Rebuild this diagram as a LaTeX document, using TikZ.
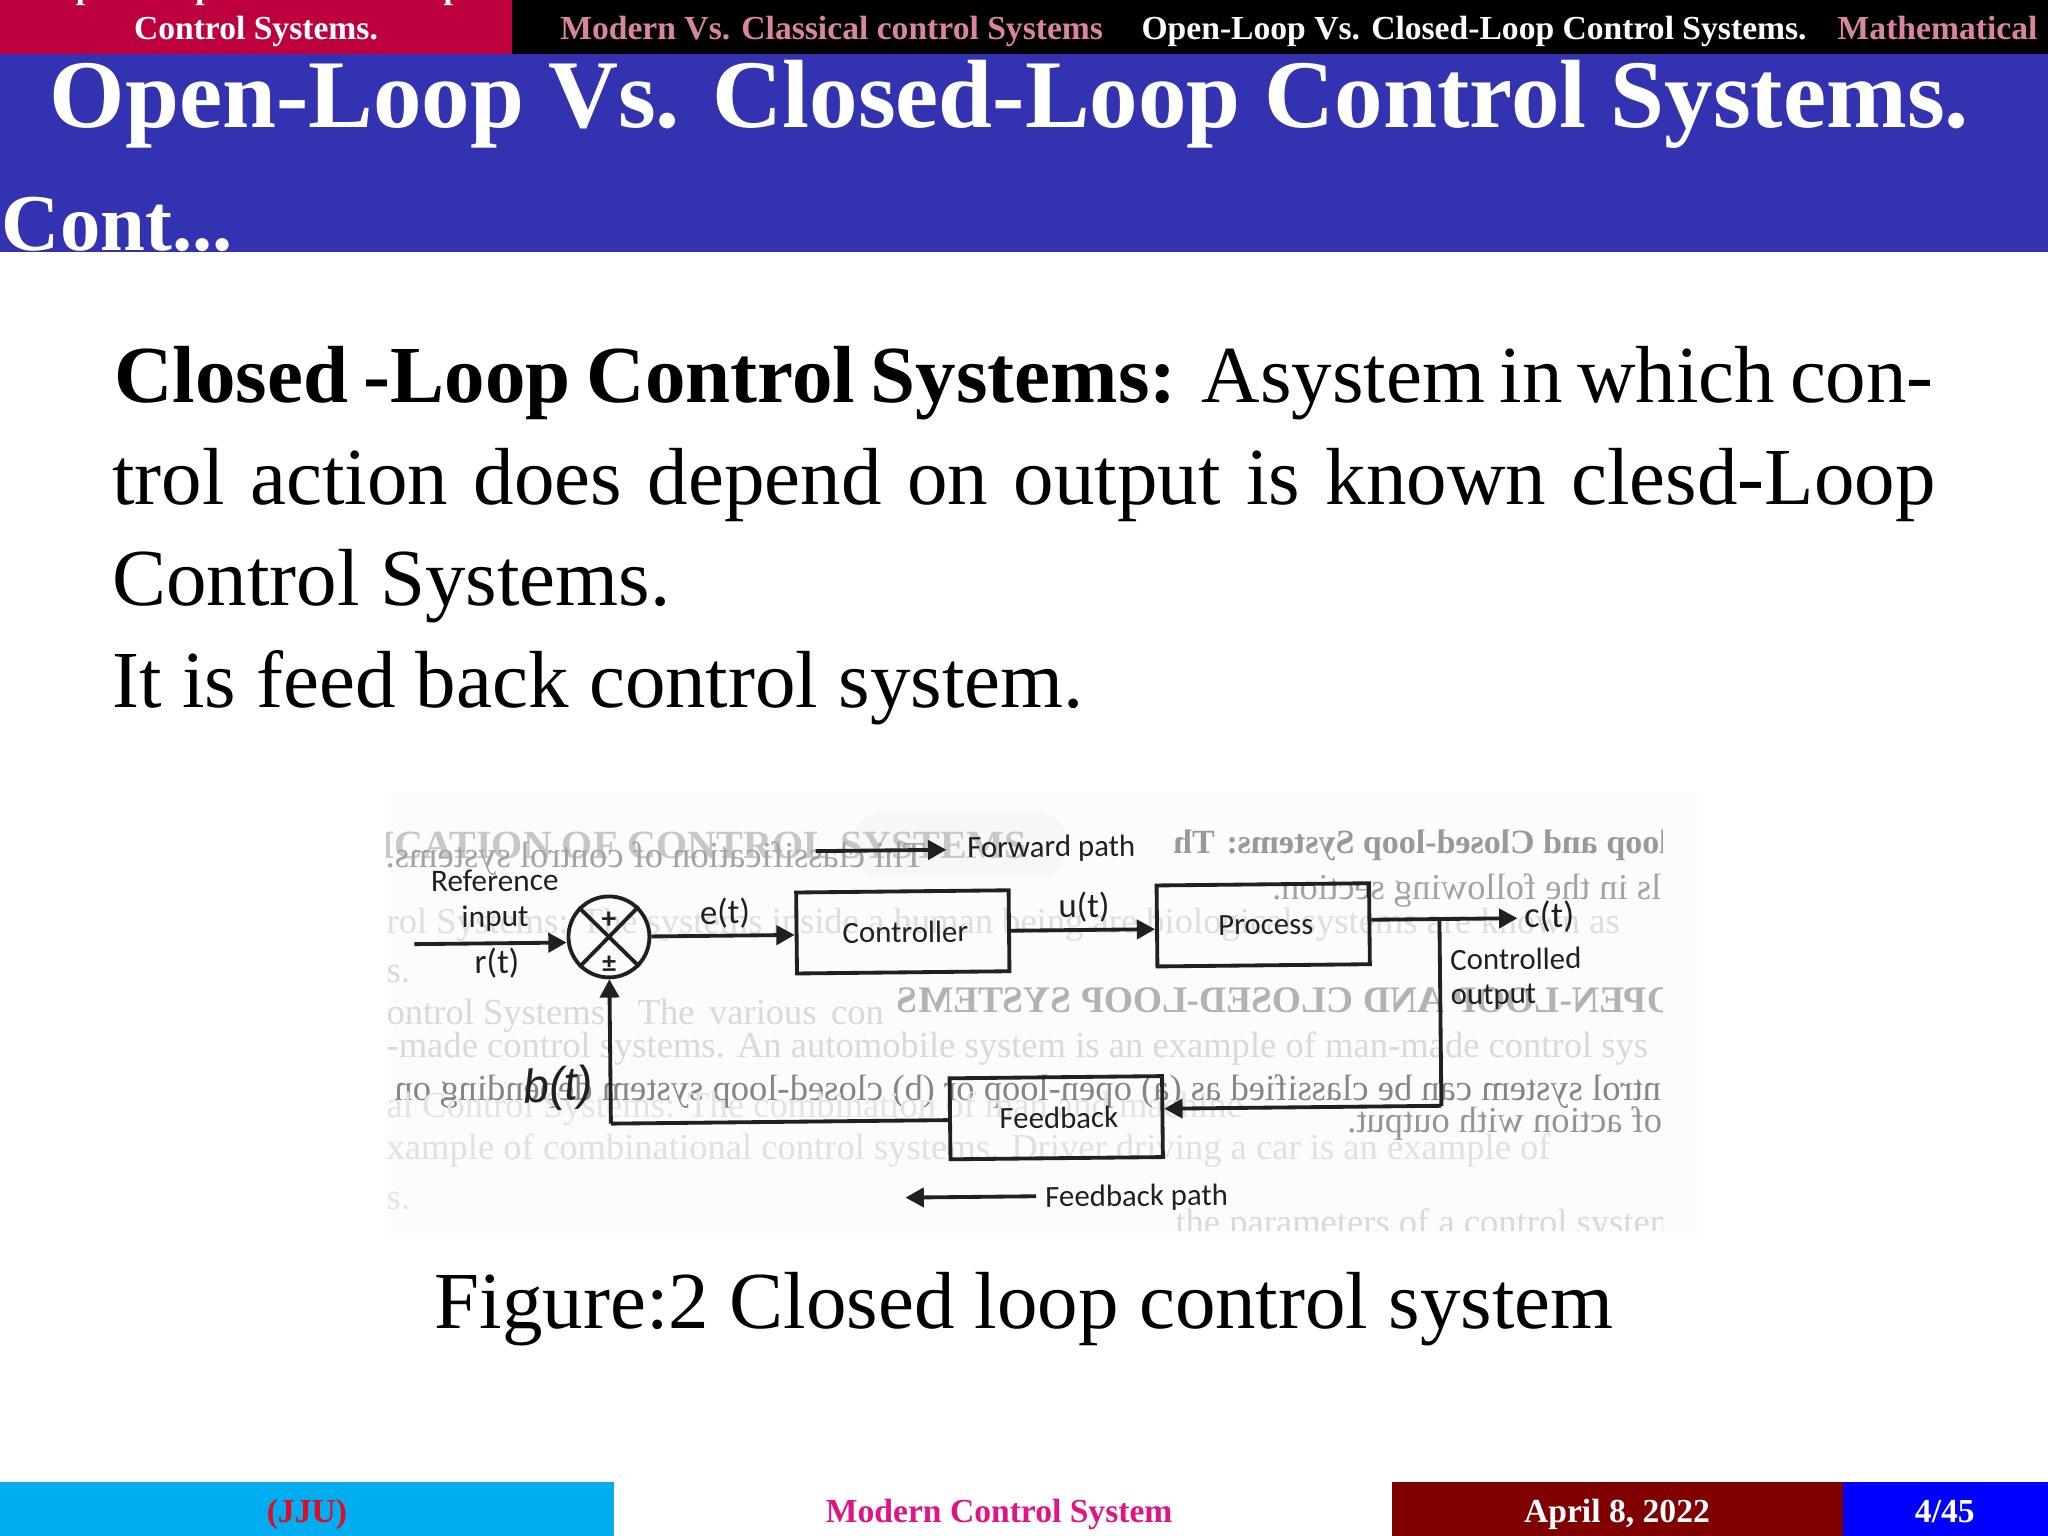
\documentclass[tikz,border=0pt]{standalone}
\usepackage{fontspec}
\setmainfont{Liberation Serif}
\newfontfamily\diagfont{Carlito}
\newfontfamily\handfont{Liberation Sans}
\usetikzlibrary{arrows.meta}
\definecolor{barred}{RGB}{190,0,63}
\definecolor{bannerblue}{RGB}{51,51,178}
\definecolor{navpink}{RGB}{216,133,157}
\definecolor{footcyan}{RGB}{0,174,239}
\definecolor{footdark}{RGB}{128,0,0}
\definecolor{footblue}{RGB}{0,0,255}
\definecolor{footmag}{RGB}{222,20,135}
\definecolor{footred}{RGB}{225,10,40}
\definecolor{ink}{RGB}{32,32,32}
\definecolor{smudge}{RGB}{245,247,248}
\newcommand{\fsz}[1]{\fontsize{#1}{#1}\selectfont}
\tikzset{
  x=0.75pt,y=-0.75pt,
  plain/.style={inner sep=0pt,outer sep=0pt},
  nav/.style={plain,anchor=base west,font=\bfseries\fsz{19.3}},
  foot/.style={plain,anchor=base,font=\bfseries\fsz{19.3}},
  titletext/.style={plain,anchor=base west,text=white,font=\bfseries\fsz{55.7}},
  bodytext/.style={plain,anchor=base west,font=\fsz{46.5}},
  boldtext/.style={plain,anchor=base west,font=\bfseries\fsz{46.5}},
  blockbox/.style={draw=ink,line width=2.2pt,inner sep=0pt,minimum width=122pt,minimum height=46.5pt,fill=none,text=ink,font=\diagfont\fsz{17.7}},
  lab/.style={plain,text=ink,font=\diagfont\fsz{17.7}},
  sig/.style={plain,text=ink,font=\diagfont\fsz{20}},
  conn/.style={draw=ink,line width=2.2pt},
  arr/.style={conn,-{Triangle[length=10.5pt,width=11pt]}},
  faint/.style={plain,text=black!15,anchor=west,font=\fsz{21}},
  faintb/.style={plain,text=black!22,font=\bfseries\fsz{23}},
  mid/.style={plain,text=black!48,xscale=-1,font=\fsz{21}},
}
\begin{document}
\begin{tikzpicture}
\clip (0,0) rectangle (1568,1176);
\useasboundingbox (0,0) rectangle (1568,1176);
% bars
\fill[barred] (0,0) rectangle (392,41);
\fill[black] (392,0) rectangle (1568,41);
\fill[bannerblue] (0,41) rectangle (1568,193);
\fill[footcyan] (0,1135) rectangle (470,1176);
\fill[footdark] (1066,1135) rectangle (1411,1176);
\fill[footblue] (1411,1135) rectangle (1568,1176);
% navigation
\node[nav,anchor=base,text=white] (navA) at (196,-1) {Open-Loop Vs. Closed-Loop};
\node[nav,anchor=base,text=white] (navB) at (196,30) {Control Systems.};
\node[nav,text=navpink] (navC) at (429,30) {Modern Vs. Classical control Systems};
\node[nav,text=white] (navD) at (874,30) {Open-Loop Vs. Closed-Loop Control Systems.};
\node[nav,text=navpink] (navE) at (1407,30) {Mathematical};
% title
\node[titletext] (title) at (38,97.5) {Open-Loop Vs. Closed-Loop Control Systems.};
\node[titletext,font=\bfseries\fsz{46.3}] (cont) at (1.5,192) {Cont...};
% body
\node[boldtext] (b1) at (87.5,308) {\makebox[610pt][s]{Closed -Loop Control Systems:}};
\node[bodytext] (b2) at (920,308) {\makebox[420.5pt][s]{Asystem in which con-}};
\node[bodytext] (b3) at (86,386) {\makebox[1047pt][s]{trol action does depend on output is known clesd-Loop}};
\node[bodytext] (b4) at (86,463.5) {Control Systems.};
\node[bodytext] (b5) at (86,541.5) {It is feed back control system.};
\node[bodytext] (cap) at (333,1017) {Figure:2 Closed loop control system};
% photo background
\fill[black!1] (296,606) rectangle (1302,945);
\fill[smudge,rounded corners=14pt] (655,622) rectangle (815,672);
\begin{scope}
\clip (296,630) rectangle (1273,942);
\node[faintb] (f1) at (523,647) {IFICATION OF CONTROL SYSTEMS};
\node[mid,text=black!36] (f2) at (470,657) {Thi classification of control systems. from};
\node[mid,text=black!40,font=\bfseries\fsz{19.5}] (f3) at (1088,647) {loop and Closed-loop Systems: Th};
\node[mid,text=black!36] (f4) at (1123,682) {ls in the following section.};
\node[faint,text=black!13] (f5) at (296,708) {rol Systems: The systems inside a human being are biological systems are known as};
\node[faint] (f6) at (296,746) {s.};
\node[faint] (f7) at (296,778) {ontrol Systems:\hspace{6pt} The\hspace{3pt} various\hspace{3pt} con};
\node[faintb,text=black!30,xscale=-1,font=\bfseries\fsz{21.5}] (f8) at (985,766) {OPEN-LOOP AND CLOSED-LOOP SYSTEMS};
\node[faint] (f9) at (296,803) {-made control systems. An automobile system is an example of man-made control sys};
\node[mid] (f10) at (787,836) {ntrol system can be classified as (a) open-loop or (b) closed-loop system depending on};
\node[faint,text=black!11] (f11) at (296,849) {al Control Systems: The combination of man and machine};
\node[mid,text=black!42] (f12) at (1152,860) {of action with output.};
\node[faint,text=black!12] (f13) at (296,881) {xample of combinational control systems. Driver driving a car is an example of};
\node[faint,text=black!10] (f14) at (296,920) {s.};
\node[faint] (f15) at (900,938) {the parameters of a control system};
\end{scope}
% diagram
\begin{scope}[rotate around={0.6:(784,790)},transform shape]
\node[blockbox] (ctrl) at (692,712.5) {\raisebox{-2pt}{\hspace*{3pt}Controller}};
\node[blockbox] (proc) at (968,710) {\raisebox{-2pt}{\hspace*{3pt}Process}};
\node[blockbox] (fb) at (808,856) {\hspace*{3pt}Feedback};
\node[draw=ink,line width=2.2pt,circle,minimum size=46.5pt,inner sep=0pt] (sum) at (467,714) {};
\draw[conn] (sum.45) -- (sum.225);
\draw[conn] (sum.135) -- (sum.315);
\node[lab,font=\diagfont\bfseries\fsz{17}] (plus) at (467,701) {+};
\node[lab,font=\diagfont\bfseries\fsz{16}] (pm) at (467,735) {±};
\node[lab,font=\diagfont\fsz{18}] (l1) at (380,670) {Reference};
\node[lab,font=\diagfont\fsz{18}] (l2) at (380,699) {input};
\node[sig] (l3) at (381,733) {r(t)};
\node[sig] (l4) at (556,697) {e(t)};
\node[sig] (l5) at (831,695) {u(t)};
\node[sig,anchor=west,font=\diagfont\fsz{21}] (l6) at (1168,706) {c(t)};
\node[lab,anchor=west] (l7) at (1111,738) {Controlled};
\node[lab,anchor=west] (l8) at (1111,767) {output};
\node[lab,font=\handfont\itshape\fsz{27},rotate=4] (l9) at (427,830) {b(t)};
\node[lab,anchor=west] (l10) at (742,650) {Forward path};
\node[lab,anchor=west] (l11) at (799,918) {Feedback path};
\coordinate (inp) at (318,718);
\coordinate (c1) at (1103,707);
\coordinate (c2) at (1103,850);
\coordinate (c3) at (467,857);
\coordinate (fa) at (626,650);
\coordinate (fc) at (792,916);
\draw[arr] (inp) -- (sum.west |- inp);
\draw[arr] (sum.east) -- (ctrl.west |- sum.east);
\draw[arr] (ctrl.east) -- (proc.west |- ctrl.east);
\draw[arr] (proc.east |- c1) -- ([xshift=-4pt]l6.west |- c1);
\draw[conn] (c1) -- (c2);
\draw[arr] (c2) -- (fb.east |- c2);
\draw[conn] (fb.west |- c3) -- (c3);
\draw[arr] (c3) -- (sum.south);
\draw[arr] (fa) -- ([xshift=-12pt]l10.west |- fa);
\draw[arr] (fc) -- ++(-100,0) coordinate (fd);
\end{scope}
% footer
\node[foot,text=footred] (f-a) at (235,1166) {(JJU)};
\node[foot,text=footmag] (f-b) at (765,1166) {Modern Control System};
\node[foot,text=white] (f-c) at (1238,1166) {April 8, 2022};
\node[foot,text=white] (f-d) at (1489,1166) {4/45};
\end{tikzpicture}
\end{document}
